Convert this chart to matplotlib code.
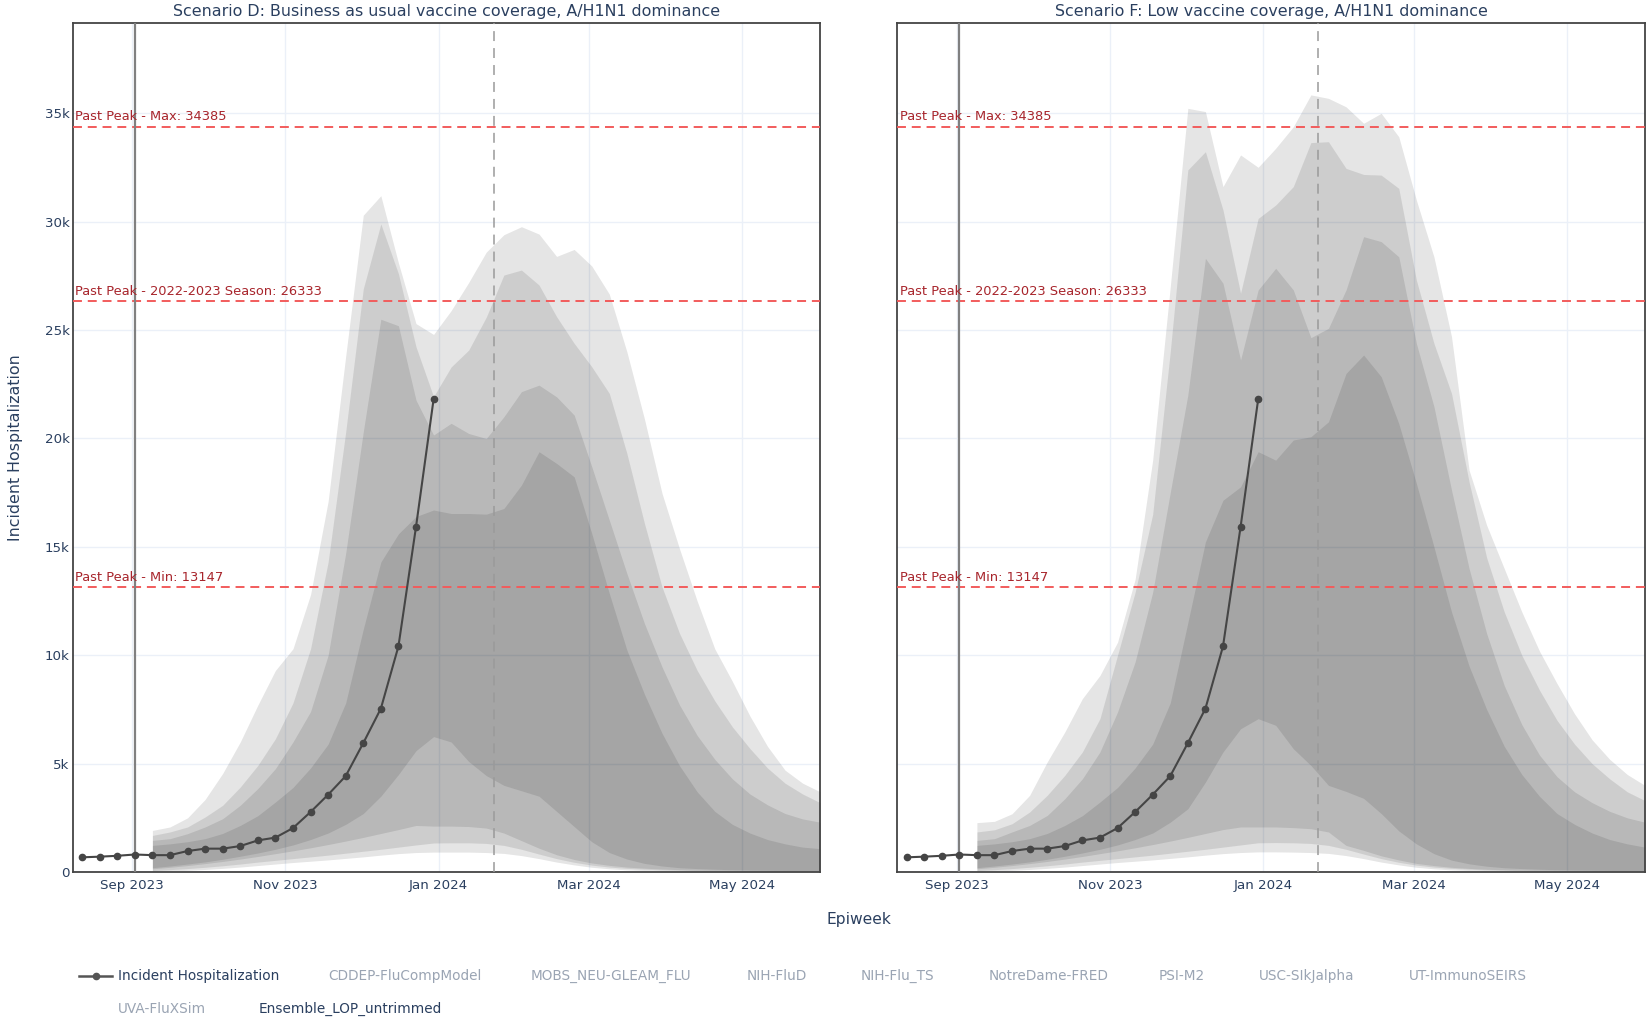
import matplotlib
matplotlib.use("Agg")
import matplotlib.pyplot as plt
import pandas as pd
from matplotlib.lines import Line2D

# observed weekly hospitalizations (same in both panels)
OBS_WEEKS = pd.date_range("2023-08-12", "2023-12-30", freq="7D")
OBS_HOSP = [680, 710, 750, 810, 780, 780, 970, 1080, 1080, 1200, 1460, 1590, 2030,
            2770, 3570, 4430, 5950, 7540, 10410, 15920, 21800]

# projection weeks for the ensemble quantile bands
PROJ_WEEKS = pd.date_range("2023-09-09", periods=39, freq="7D")

# Scenario D: Business as usual vaccine coverage
D_LO95 = [30, 50, 80, 120, 170, 230, 300, 370, 440, 500, 560, 630, 700, 780, 850, 900, 920, 920, 920, 900,
          860, 760, 620, 460, 330, 220, 150, 100, 70, 50, 40, 30, 25, 20, 20, 15, 15, 15, 15]
D_HI95 = [1920, 2080, 2500, 3350, 4550, 6000, 7700, 9300, 10300, 12800, 17100, 23800, 30300, 31200, 28100,
          25300, 24800, 25900, 27200, 28600, 29400, 29770, 29430, 28400, 28720, 27960, 26660, 24000, 20900,
          17470, 14900, 12500, 10300, 8800, 7200, 5800, 4700, 4100, 3700]
D_LO90 = [70, 110, 160, 220, 290, 370, 460, 540, 620, 700, 780, 870, 960, 1050, 1150, 1250, 1340, 1350, 1350,
          1320, 1230, 1050, 830, 620, 450, 320, 230, 170, 130, 100, 80, 65, 55, 50, 45, 40, 40, 35, 35]
D_HI90 = [1690, 1850, 2080, 2540, 3080, 3920, 4920, 6150, 7800, 10300, 14300, 20300, 26900, 29900, 27600,
          24230, 21930, 23300, 24080, 25600, 27540, 27770, 27080, 25620, 24390, 23310, 22080, 19310, 16080,
          13150, 11000, 9300, 7900, 6700, 5700, 4800, 4100, 3600, 3200]
D_LO80 = [150, 220, 300, 390, 490, 600, 720, 850, 980, 1120, 1270, 1430, 1600, 1780, 1960, 2150, 2120, 2120,
          2100, 2030, 1800, 1450, 1100, 800, 580, 420, 310, 230, 180, 140, 110, 90, 80, 70, 60, 55, 50, 50, 45]
D_HI80 = [1460, 1540, 1770, 2080, 2460, 3080, 3850, 4770, 6000, 7400, 10000, 14700, 20300, 25500, 25200,
          21770, 20160, 20700, 20230, 20000, 21000, 22160, 22460, 21920, 21080, 18700, 16230, 13770, 11460,
          9460, 7700, 6300, 5200, 4300, 3600, 3100, 2700, 2450, 2300]
D_LO50 = [200, 280, 370, 470, 590, 730, 880, 1050, 1250, 1500, 1800, 2200, 2700, 3500, 4500, 5600, 6250, 6000,
          5100, 4450, 4000, 3750, 3500, 2800, 2100, 1400, 900, 600, 400, 280, 200, 160, 130, 110, 95, 85, 75,
          70, 65]
D_HI50 = [1230, 1300, 1400, 1540, 1780, 2150, 2600, 3230, 3900, 4800, 5900, 7800, 11200, 14300, 15600, 16400,
          16700, 16540, 16540, 16510, 16770, 17850, 19390, 18850, 18230, 15620, 12850, 10240, 8200, 6400,
          4900, 3700, 2800, 2200, 1800, 1500, 1300, 1150, 1080]

# Scenario F: Low vaccine coverage
F_LO95 = [30, 50, 80, 120, 170, 230, 300, 370, 440, 500, 560, 630, 700, 780, 850, 900, 930, 930, 920, 900,
          860, 760, 620, 460, 330, 220, 150, 100, 70, 50, 40, 30, 25, 20, 20, 15, 15, 15, 15]
F_HI95 = [2280, 2340, 2690, 3540, 5080, 6460, 8000, 9070, 10600, 13500, 19000, 27000, 35230, 35080, 31620,
          33080, 32510, 33390, 34380, 35850, 35690, 35300, 34540, 35000, 33920, 31000, 28380, 24700, 18540,
          16000, 14000, 12000, 10200, 8700, 7300, 6100, 5200, 4500, 4000]
F_LO90 = [70, 110, 160, 220, 290, 370, 460, 540, 620, 700, 780, 870, 960, 1050, 1150, 1250, 1350, 1360, 1350,
          1320, 1230, 1050, 830, 620, 450, 320, 230, 170, 130, 100, 80, 65, 55, 50, 45, 40, 40, 35, 35]
F_HI90 = [1850, 1950, 2230, 2770, 3540, 4460, 5540, 7075, 10000, 12900, 16500, 24000, 32390, 33230, 30540,
          26700, 30150, 30770, 31620, 33650, 33690, 32460, 32180, 32150, 31540, 27310, 24390, 22080, 18000,
          14500, 12000, 10000, 8400, 7000, 5900, 5000, 4300, 3700, 3300]
F_LO80 = [150, 220, 300, 390, 490, 600, 720, 850, 980, 1120, 1270, 1430, 1600, 1780, 1960, 2080, 2080, 2080,
          2050, 2000, 1850, 1230, 1000, 750, 560, 400, 300, 220, 170, 130, 105, 90, 80, 70, 60, 55, 50, 50, 45]
F_HI80 = [1460, 1540, 1850, 2150, 2610, 3380, 4300, 5540, 7380, 9690, 12900, 17500, 22000, 28310, 27160,
          23620, 26850, 27850, 26850, 24650, 25080, 26850, 29310, 29080, 28380, 24390, 21470, 17620, 14000,
          11000, 8600, 6800, 5400, 4400, 3700, 3200, 2800, 2500, 2300]
F_LO50 = [200, 280, 370, 470, 590, 730, 880, 1050, 1250, 1500, 1800, 2300, 2920, 4150, 5540, 6610, 7075, 6770,
          5690, 4920, 4000, 3720, 3400, 2700, 1900, 1300, 850, 550, 380, 270, 200, 160, 130, 110, 95, 85, 75,
          70, 65]
F_HI50 = [1230, 1300, 1400, 1540, 1780, 2150, 2600, 3230, 3900, 4800, 5900, 7800, 11500, 15230, 17150, 17770,
          19390, 19000, 19930, 20080, 20770, 23000, 23850, 22850, 20690, 17930, 15000, 12000, 9500, 7500,
          5800, 4500, 3500, 2700, 2200, 1800, 1500, 1300, 1150]

PAST_PEAKS = [34385, 26333, 13147]
PAST_PEAK_LABELS = ["Past Peak - Max: 34385", "Past Peak - 2022-2023 Season: 26333", "Past Peak - Min: 13147"]

TITLES = ["Scenario D: Business as usual vaccine coverage, A/H1N1 dominance",
          "Scenario F: Low vaccine coverage, A/H1N1 dominance"]

Y_TICKS = [0, 5000, 10000, 15000, 20000, 25000, 30000, 35000]
Y_TICK_LABELS = ["0", "5k", "10k", "15k", "20k", "25k", "30k", "35k"]
X_TICKS = pd.to_datetime(["2023-09-01", "2023-11-01", "2024-01-01", "2024-03-01", "2024-05-01"])
X_TICK_LABELS = ["Sep 2023", "Nov 2023", "Jan 2024", "Mar 2024", "May 2024"]

START_DATE = pd.Timestamp("2023-09-02")
CURRENT_DATE = pd.Timestamp("2024-01-23")

LEGEND_ROW1 = ["CDDEP-FluCompModel", "MOBS_NEU-GLEAM_FLU", "NIH-FluD", "NIH-Flu_TS", "NotreDame-FRED",
               "PSI-M2", "USC-SIkJalpha", "UT-ImmunoSEIRS"]
LEGEND_ROW2 = ["UVA-FluXSim"]

TEXT = "#2a3f5f"
FADED = "#9aa4b3"
GRID = "#ebf0f8"
TICK_SIZE = 9.6
LEGEND_SIZE = 9.8
PEAK_SIZE = 9.4

plt.rcParams["font.family"] = ["DejaVu Sans"]


def draw_panel(ax, bands, show_y):
    ax.set_xlim(pd.Timestamp("2023-08-08 05:00"), pd.Timestamp("2024-06-01"))
    ax.set_ylim(0, 39160)
    ax.set_yticks(Y_TICKS)
    ax.set_yticklabels(Y_TICK_LABELS if show_y else [])
    ax.set_xticks(X_TICKS)
    ax.set_xticklabels(X_TICK_LABELS)
    ax.tick_params(length=0, labelsize=TICK_SIZE, labelcolor=TEXT)
    ax.tick_params(axis="x", pad=5)
    ax.tick_params(axis="y", pad=2)
    ax.grid(True, color=GRID, lw=1.0, zorder=0)
    ax.set_axisbelow(True)
    for s in ax.spines.values():
        s.set_color("#444444")
        s.set_linewidth(1.3)

    # translucent quantile bands stack into darker shades
    for lo, hi in bands:
        ax.fill_between(PROJ_WEEKS, lo, hi, color="black", alpha=0.1, lw=0, zorder=1)

    for val, lab in zip(PAST_PEAKS, PAST_PEAK_LABELS):
        ax.axhline(val, color="#f25c5c", lw=1.4, dashes=(4.6, 3.0), zorder=3)
        ax.annotate(lab, xy=(0, val), xycoords=("axes fraction", "data"), xytext=(2, 2.5),
                    textcoords="offset points", ha="left", va="bottom", fontsize=PEAK_SIZE,
                    color="#a8252c", zorder=4)

    ax.axvline(START_DATE, color="#808080", lw=1.6, zorder=3)
    ax.axvline(CURRENT_DATE, color="#9a9a9a", lw=1.1, dashes=(6.5, 4.6), zorder=3)

    ax.plot(OBS_WEEKS, OBS_HOSP, color="#454545", lw=1.5, marker="o", ms=4.5, zorder=5)


fig = plt.figure(figsize=(16.49, 10.19), dpi=100)
ax_d = fig.add_axes([0.0440, 0.1442, 0.4534, 0.8331])
ax_f = fig.add_axes([0.5440, 0.1442, 0.4535, 0.8331])

draw_panel(ax_d, [(D_LO95, D_HI95), (D_LO90, D_HI90), (D_LO80, D_HI80), (D_LO50, D_HI50)], True)
draw_panel(ax_f, [(F_LO95, F_HI95), (F_LO90, F_HI90), (F_LO80, F_HI80), (F_LO50, F_HI50)], False)

fig.text(0.2707, 0.9886, TITLES[0], ha="center", va="center", fontsize=11.4, color=TEXT)
fig.text(0.7708, 0.9886, TITLES[1], ha="center", va="center", fontsize=11.4, color=TEXT)
fig.text(0.0096, 0.5603, "Incident Hospitalization", rotation=90, ha="center", va="center",
         fontsize=11.4, color=TEXT)
fig.text(0.521, 0.0972, "Epiweek", ha="center", va="center", fontsize=11.2, color=TEXT)

# legend, laid out by hand like the plotly one
fig.add_artist(Line2D([0.0479, 0.0682], [0.0422, 0.0422], transform=fig.transFigure, color="#555555", lw=1.8))
fig.add_artist(Line2D([0.058], [0.0422], transform=fig.transFigure, color="#555555", marker="o", ms=4.5))
fig.text(0.0714, 0.0422, "Incident Hospitalization", ha="left", va="center", fontsize=LEGEND_SIZE, color=TEXT)
row1_x = [0.1989, 0.3220, 0.4528, 0.5217, 0.5995, 0.7029, 0.7635, 0.8545]
for x, lab in zip(row1_x, LEGEND_ROW1):
    fig.text(x, 0.0422, lab, ha="left", va="center", fontsize=LEGEND_SIZE, color=FADED)
fig.text(0.0714, 0.0095, LEGEND_ROW2[0], ha="left", va="center", fontsize=LEGEND_SIZE, color=FADED)
fig.text(0.1569, 0.0095, "Ensemble_LOP_untrimmed", ha="left", va="center", fontsize=LEGEND_SIZE, color=TEXT)

fig.savefig("out.png", dpi=100)
